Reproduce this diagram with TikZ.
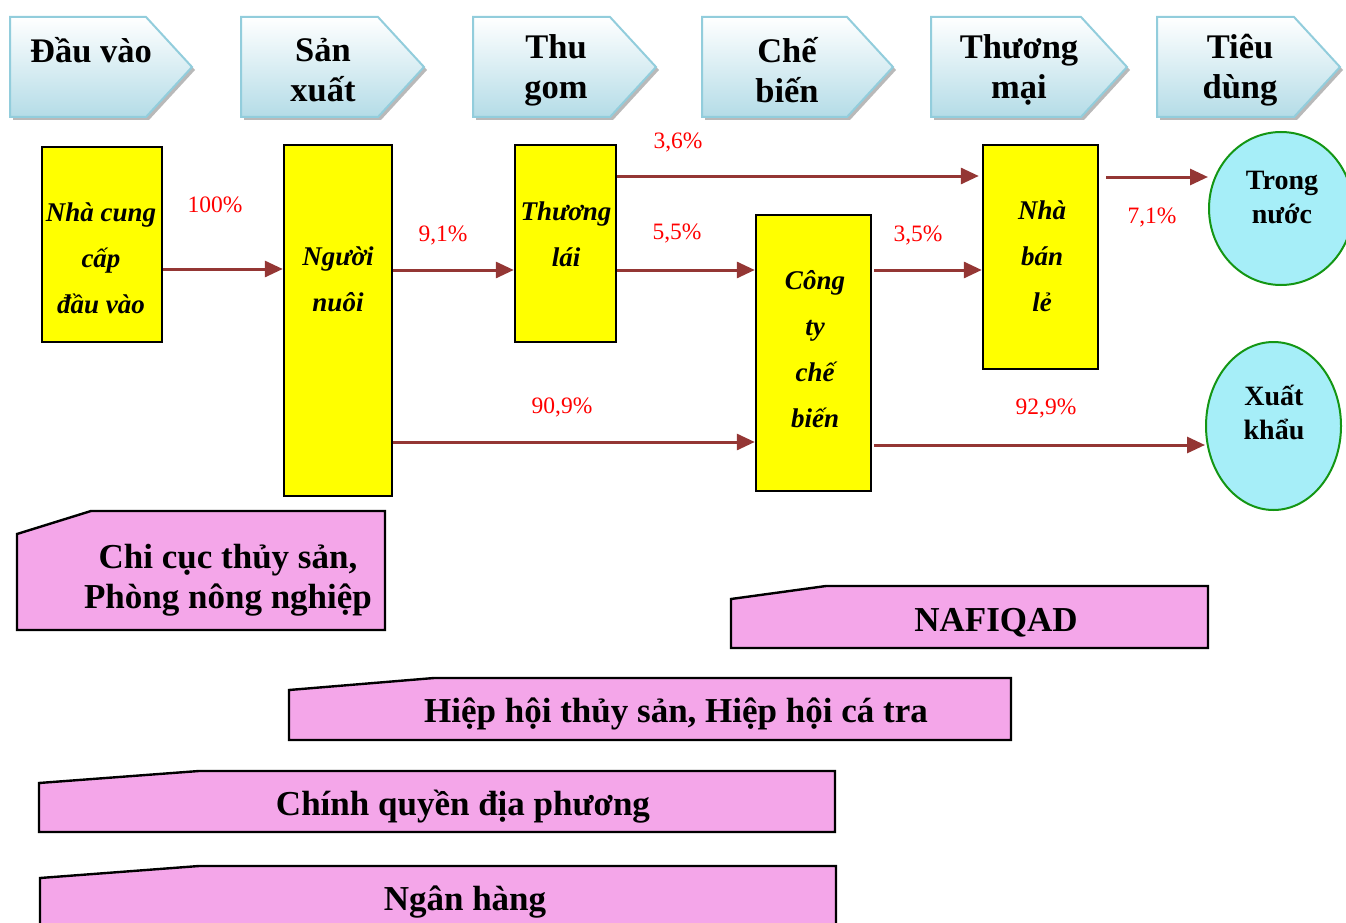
\documentclass[tikz,border=0pt]{standalone}
\usepackage{fontspec}
\setmainfont{Liberation Serif}
\usetikzlibrary{arrows.meta,shapes.geometric}
\definecolor{flowred}{RGB}{148,54,52}
\definecolor{pctred}{RGB}{255,0,0}
\definecolor{chevline}{RGB}{146,205,220}
\definecolor{chevbot}{RGB}{180,220,231}
\definecolor{stagefill}{RGB}{255,255,0}
\definecolor{agencyfill}{RGB}{244,166,233}
\definecolor{marketfill}{RGB}{166,238,248}
\definecolor{marketline}{RGB}{20,150,20}
\begin{document}
\begin{tikzpicture}[x=1pt,y=-1pt,
  chev/.style={draw=chevline,line width=2pt,top color=white,bottom color=chevbot},
  chevshadow/.style={fill=gray!55},
  chevtext/.style={font=\fontsize{34.5}{40}\selectfont\bfseries,align=center},
  stage/.style={draw=black,line width=2.4pt,fill=stagefill,inner sep=0pt},
  stagetext/.style={font=\fontsize{27}{46}\selectfont\bfseries\itshape,align=center},
  market/.style={ellipse,draw=marketline,line width=2pt,fill=marketfill,inner sep=0pt},
  markettext/.style={font=\fontsize{28}{34}\selectfont\bfseries,align=center},
  pct/.style={text=pctred,font=\fontsize{23.5}{26}\selectfont},
  flow/.style={draw=flowred,line width=3pt,-{Triangle[length=18pt,width=16pt]}},
  agency/.style={draw=black,line width=2.4pt,fill=agencyfill},
  agencytext/.style={font=\fontsize{35}{40}\selectfont\bfseries,align=center}]

\useasboundingbox (0,0) rectangle (1346,923);

% value-chain stage headers
\foreach \n/\l/\p/\tx/\ty/\t in {
    hInput/10/192/91/50/{Đầu vào},
    hProd/241/424/323/70/{Sản\\xuất},
    hCollect/473/656/556/70/{Thu\\gom},
    hProcess/702/893/787/70/{Chế\\biến},
    hTrade/931/1127/1019/70/{Thương\\mại},
    hConsume/1157/1340/1240/70/{Tiêu\\dùng}}{
  \fill[chevshadow] (\l+3,20) -- (\p-43,20) -- (\p+3,70) -- (\p-43,120) -- (\l+3,120) -- cycle;
  \path[chev] (\l,17) -- (\p-46,17) -- (\p,67) -- (\p-46,117) -- (\l,117) -- cycle;
  \node[chevtext] (\n) at (\tx,\ty) {\t};
}

% actors
\node[stage,minimum width=120pt,minimum height=195pt] (supplier) at (102,244.5) {};
\node[stage,minimum width=108pt,minimum height=351pt] (farmer) at (338,320.5) {};
\node[stage,minimum width=101pt,minimum height=197pt] (trader) at (565.5,243.5) {};
\node[stage,minimum width=115pt,minimum height=276pt] (processor) at (813.5,353) {};
\node[stage,minimum width=115pt,minimum height=224pt] (retailer) at (1040.5,257) {};

\node[stagetext] (supplierT) at (101,258) {Nhà cung\\cấp\\đầu vào};
\node[stagetext] (farmerT) at (338,279) {Người\\nuôi};
\node[stagetext] (traderT) at (566,234) {Thương\\lái};
\node[stagetext] (processorT) at (815,349) {Công\\ty\\chế\\biến};
\node[stagetext] (retailerT) at (1042,256) {Nhà\\bán\\lẻ};

% markets
\node[market,minimum width=144pt,minimum height=153pt] (domestic) at (1281,208.5) {};
\node[market,minimum width=135pt,minimum height=168pt] (export) at (1273.5,426) {};
\node[markettext] (domesticT) at (1282,198) {Trong\\nước};
\node[markettext] (exportT) at (1274,412) {Xuất\\khẩu};

% flow levels
\coordinate (yA) at (0,269);
\coordinate (yB) at (0,270);
\coordinate (yC) at (0,176);
\coordinate (yH) at (0,177);
\coordinate (yF) at (0,442);
\coordinate (yG) at (0,445);

% product flows
\draw[flow] (supplier.east |- yA) -- (farmer.west |- yA);
\draw[flow] (farmer.east |- yB) -- (trader.west |- yB);
\draw[flow,shorten >=3pt] (trader.east |- yC) -- (retailer.west |- yC);
\draw[flow] (trader.east |- yB) -- (processor.west |- yB);
\draw[flow,shorten <=2pt] (processor.east |- yB) -- (retailer.west |- yB);
\draw[flow] (farmer.east |- yF) -- (processor.west |- yF);
\draw[flow,shorten <=2pt] (processor.east |- yG) -- (export.west |- yG);
\draw[flow,shorten <=7pt] (retailer.east |- yH) -- (domestic.west |- yH);

\node[pct] (p100) at (215,205) {100\%};
\node[pct] (p91) at (443,235) {9,1\%};
\node[pct] (p36) at (678,142) {3,6\%};
\node[pct] (p55) at (677,233) {5,5\%};
\node[pct] (p35) at (918,235) {3,5\%};
\node[pct] (p909) at (562,407) {90,9\%};
\node[pct] (p929) at (1046,408) {92,9\%};
\node[pct] (p71) at (1152,217) {7,1\%};

% supporting institutions
\path[agency] (17,534) -- (91,511) -- (385,511) -- (385,630) -- (17,630) -- cycle;
\node[agencytext] (fisheries) at (228,580) {Chi cục thủy sản,\\Phòng nông nghiệp};

\path[agency] (731,599) -- (826,586) -- (1208,586) -- (1208,648) -- (731,648) -- cycle;
\node[agencytext] (nafiqad) at (996,623) {NAFIQAD};

\path[agency] (289,690) -- (434,678) -- (1011,678) -- (1011,740) -- (289,740) -- cycle;
\node[agencytext] (assoc) at (676,714) {Hiệp hội thủy sản, Hiệp hội cá tra};

\path[agency] (39,783) -- (199,771) -- (835,771) -- (835,832) -- (39,832) -- cycle;
\node[agencytext] (localgov) at (463,807) {Chính quyền địa phương};

\path[agency] (40,878) -- (199,866) -- (836,866) -- (836,935) -- (40,935) -- cycle;
\node[agencytext] (bank) at (465,902) {Ngân hàng};
\end{tikzpicture}
\end{document}
